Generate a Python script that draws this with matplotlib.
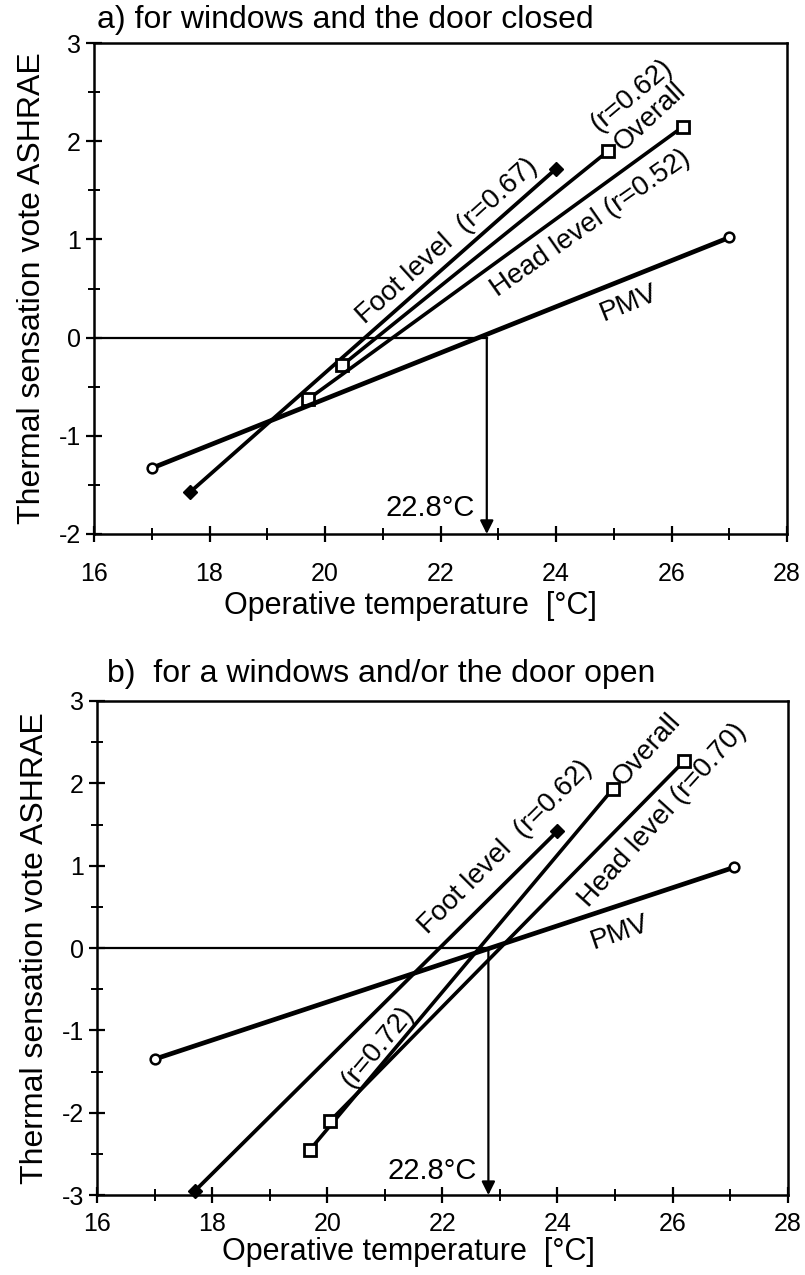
import numpy as np
import matplotlib.pyplot as plt
from matplotlib.ticker import MultipleLocator

plt.rcParams['font.family'] = ['Liberation Sans', 'DejaVu Sans']
plt.rcParams['axes.unicode_minus'] = False

# regression line end points (operative temperature, ASHRAE vote)
# a) windows and door closed
foot_a_t = [17.67, 24.0]
foot_a_v = [-1.57, 1.72]
overall_a_t = [20.3, 24.9]
overall_a_v = [-0.28, 1.9]
head_a_t = [19.7, 26.2]
head_a_v = [-0.63, 2.15]
pmv_a_t = [17.0, 27.0]
pmv_a_v = [-1.33, 1.02]

# b) a window and/or the door open
foot_b_t = [17.7, 24.0]
foot_b_v = [-2.95, 1.42]
overall_b_t = [19.7, 24.96]
overall_b_v = [-2.45, 1.93]
head_b_t = [20.05, 26.2]
head_b_v = [-2.1, 2.27]
pmv_b_t = [17.0, 27.07]
pmv_b_v = [-1.35, 0.98]

neutral_temp = 22.8
x_ticks = [16, 18, 20, 22, 24, 26, 28]


def setup_axes(ax, ymin, ymax):
    ax.set_xlim(16, 28)
    ax.set_ylim(ymin, ymax)
    ax.set_xticks(x_ticks)
    ax.set_yticks(range(ymin, ymax + 1))
    ax.xaxis.set_minor_locator(MultipleLocator(1))
    ax.yaxis.set_minor_locator(MultipleLocator(0.5))
    ax.tick_params(which='major', direction='inout', length=12, width=1.6,
                   labelsize=18)
    ax.tick_params(which='minor', direction='inout', length=8, width=1.4)
    for s in ax.spines.values():
        s.set_linewidth(1.8)
    ax.set_xlabel('Operative temperature  [°C]', fontsize=22)
    ax.set_ylabel('Thermal sensation vote ASHRAE', fontsize=23)


def draw_lines(ax, foot_t, foot_v, ov_t, ov_v, hd_t, hd_v, pmv_t, pmv_v, ymin):
    ax.plot(foot_t, foot_v, color='k', lw=2.7, marker='D', ms=7,
            mfc='k', clip_on=False)
    ax.plot(ov_t, ov_v, color='k', lw=2.6, marker='s', ms=8,
            mfc='white', mew=2, clip_on=False)
    ax.plot(hd_t, hd_v, color='k', lw=2.6, marker='s', ms=8,
            mfc='white', mew=2, clip_on=False)
    ax.plot(pmv_t, pmv_v, color='k', lw=3.4, marker='o', ms=7,
            mfc='white', mew=1.8, clip_on=False)
    # neutral line and arrow down to the temperature axis
    ax.plot([16, neutral_temp], [0, 0], color='k', lw=1.6)
    ax.annotate('', xy=(neutral_temp, ymin), xytext=(neutral_temp, 0),
                arrowprops=dict(arrowstyle='-|>', color='k', lw=1.6,
                                mutation_scale=20, shrinkA=0, shrinkB=0))
    ax.text(22.6, ymin + 0.12, '22.8°C', fontsize=21, ha='right', va='bottom')


fig = plt.figure(figsize=(8.05, 12.75), dpi=100)

# panel a
ax1 = fig.add_axes([0.1168, 0.5812, 0.861, 0.385])
setup_axes(ax1, -2, 3)
draw_lines(ax1, foot_a_t, foot_a_v, overall_a_t, overall_a_v,
           head_a_t, head_a_v, pmv_a_t, pmv_a_v, -2)
ax1.xaxis.set_tick_params(pad=14)
ax1.xaxis.set_label_coords(0.456, -0.116)
ax1.yaxis.set_label_coords(-0.068, 0.5)
ax1.text(22.12, 0.98, 'Foot level  (r=0.67)', fontsize=20, rotation=42,
         ha='center', va='center', rotation_mode='anchor')
ax1.text(25.31, 2.47, '(r=0.62)', fontsize=20, rotation=40,
         ha='center', va='center', rotation_mode='anchor')
ax1.text(25.62, 2.25, 'Overall', fontsize=20, rotation=43,
         ha='center', va='center', rotation_mode='anchor')
ax1.text(24.6, 1.16, 'Head level (r=0.52)', fontsize=20, rotation=35,
         ha='center', va='center', rotation_mode='anchor')
ax1.text(25.26, 0.35, 'PMV', fontsize=20, rotation=22,
         ha='center', va='center', rotation_mode='anchor')
fig.text(97 / 805, 1 - 20 / 1275, 'a) for windows and the door closed',
         fontsize=23, ha='left', va='center')

# panel b
ax2 = fig.add_axes([0.1205, 0.0627, 0.858, 0.3875])
setup_axes(ax2, -3, 3)
draw_lines(ax2, foot_b_t, foot_b_v, overall_b_t, overall_b_v,
           head_b_t, head_b_v, pmv_b_t, pmv_b_v, -3)
ax2.xaxis.set_tick_params(pad=6)
ax2.xaxis.set_label_coords(0.451, -0.085)
ax2.yaxis.set_label_coords(-0.068, 0.5)
ax2.text(23.1, 1.23, 'Foot level  (r=0.62)', fontsize=20, rotation=45,
         ha='center', va='center', rotation_mode='anchor')
ax2.text(25.56, 2.41, 'Overall', fontsize=20, rotation=48,
         ha='center', va='center', rotation_mode='anchor')
ax2.text(25.83, 1.61, 'Head level (r=0.70)', fontsize=20, rotation=48,
         ha='center', va='center', rotation_mode='anchor')
ax2.text(25.08, 0.19, 'PMV', fontsize=20, rotation=19,
         ha='center', va='center', rotation_mode='anchor')
ax2.text(20.88, -1.2, '(r=0.72)', fontsize=20, rotation=50,
         ha='center', va='center', rotation_mode='anchor')
fig.text(107 / 805, 1 - 674 / 1275, 'b)  for a windows and/or the door open',
         fontsize=23, ha='left', va='center')

fig.savefig('out.png', dpi=100)
